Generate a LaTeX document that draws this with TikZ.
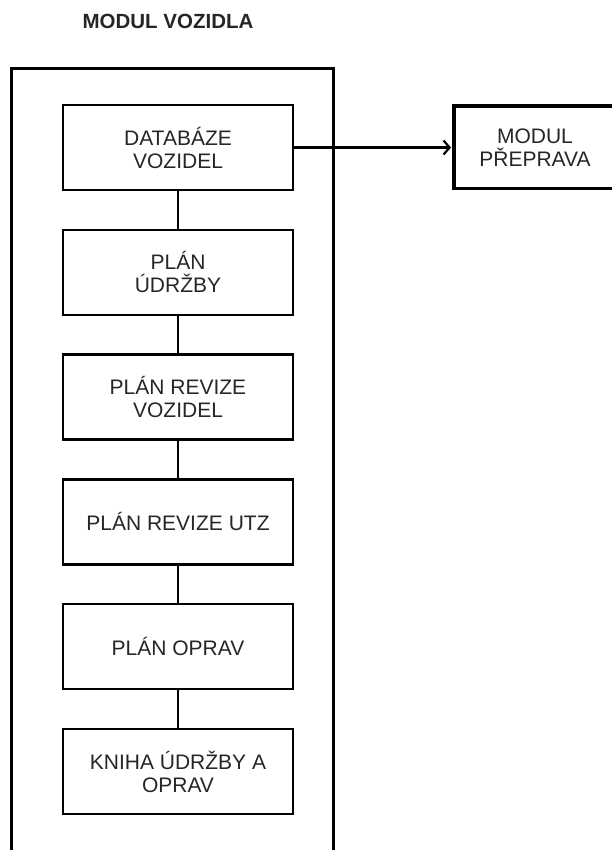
\documentclass[tikz,border=0pt]{standalone}
\usepackage{fontspec}
\setmainfont{Liberation Sans}
\usetikzlibrary{arrows.meta, positioning}
\definecolor{ModText}{HTML}{262626}

\begin{document}
\begin{tikzpicture}[
    x=1pt, y=-1pt,
    node distance=39.8pt,
    modbox/.style={draw=black, line width=2.5pt, minimum width=230pt, minimum height=85pt, outer sep=0pt, align=center, text=ModText, font=\fontsize{21}{23}\selectfont},
    extbox/.style={modbox, line width=3.4pt, minimum width=162pt, minimum height=82.6pt},
    frame/.style={draw=black, line width=3.4pt},
    link/.style={line width=2.5pt},
    arrow/.style={-{Straight Barb[length=6pt, width=14pt]}, line width=2.2pt, shorten >=3pt}
]
    \useasboundingbox (0,0) rectangle (612,850);
    \clip (0,0) rectangle (612,850);

    \node[font=\bfseries\fontsize{20.5}{23}\selectfont, text=ModText] (title) at (168,21) {MODUL VOZIDLA};
    \draw[frame] (11.7,68.7) rectangle (333.3,880);

    \node[modbox] (databaze) at (178,147.5) {DATABÁZE\\VOZIDEL};
    \node[modbox, below=of databaze] (udrzba) {PLÁN\\ÚDRŽBY};
    \node[modbox, below=of udrzba] (revize) {PLÁN REVIZE\\VOZIDEL};
    \node[modbox, below=of revize] (utz) {PLÁN REVIZE UTZ};
    \node[modbox, below=of utz] (opravy) {PLÁN OPRAV};
    \node[modbox, below=of opravy] (kniha) {KNIHA ÚDRŽBY A\\OPRAV};
    \node[extbox, right=161pt of databaze] (preprava) {MODUL\\PŘEPRAVA};

    \draw[link] (databaze) -- (udrzba);
    \draw[link] (udrzba) -- (revize);
    \draw[link] (revize) -- (utz);
    \draw[link] (utz) -- (opravy);
    \draw[link] (opravy) -- (kniha);
    \draw[arrow] (databaze) -- (preprava);
\end{tikzpicture}
\end{document}
